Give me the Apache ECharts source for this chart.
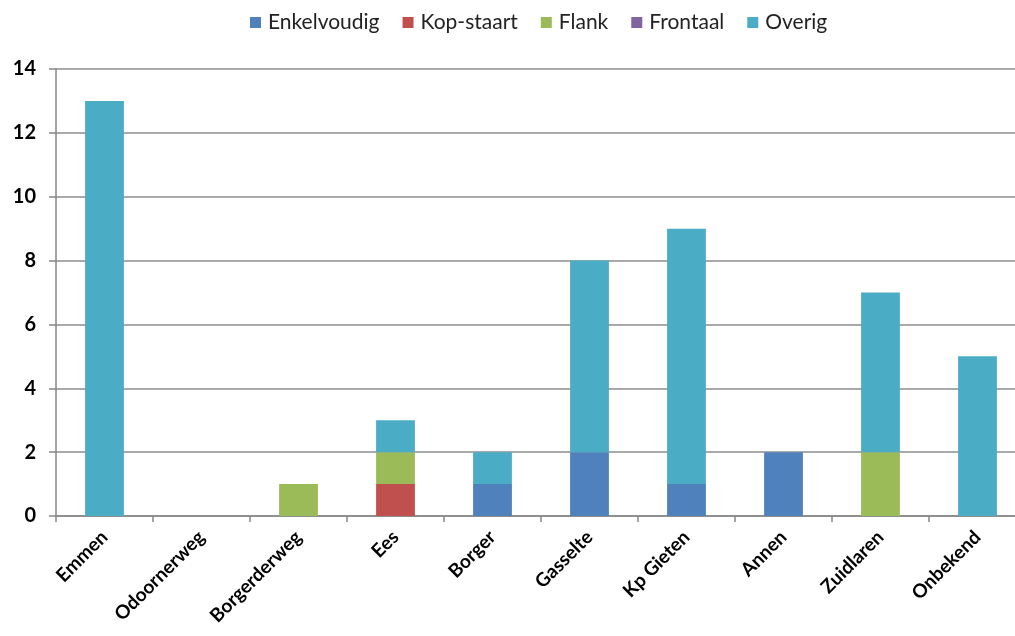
<!DOCTYPE html>
<html>
<head>
<meta charset="utf-8">
<script src="https://cdn.jsdelivr.net/npm/echarts@6/dist/echarts.min.js"></script>
<style>
  html, body { margin: 0; padding: 0; background: #fff; }
  #chart { width: 1015px; height: 636px; }
</style>
</head>
<body>
<div id="chart"></div>
<script>
// Locations along the x axis
const categories = ['Emmen', 'Odoornerweg', 'Borgerderweg', 'Ees', 'Borger', 'Gasselte', 'Kp Gieten', 'Annen', 'Zuidlaren', 'Onbekend'];

// Counts per collision type, stacked per location
const enkelvoudig = [0, 0, 0, 0, 1, 2, 1, 2, 0, 0];
const kopStaart   = [0, 0, 0, 1, 0, 0, 0, 0, 0, 0];
const flank       = [0, 0, 1, 1, 0, 0, 0, 0, 2, 0];
const frontaal    = [0, 0, 0, 0, 0, 0, 0, 0, 0, 0];
const overig      = [13, 0, 0, 1, 1, 6, 8, 0, 5, 5];

const seriesNames = ['Enkelvoudig', 'Kop-staart', 'Flank', 'Frontaal', 'Overig'];
const seriesData = [enkelvoudig, kopStaart, flank, frontaal, overig];
const colors = ['#4F81BD', '#C0504D', '#9BBB59', '#8064A2', '#4BACC6'];

const FONT = 'Lato, "Open Sans", sans-serif';

const chart = echarts.init(document.getElementById('chart'), null, { renderer: 'canvas' });

chart.setOption({
  animation: false,
  color: colors,
  legend: {
    top: 7,
    left: 245,
    itemWidth: 11,
    itemHeight: 11,
    itemGap: 23,
    icon: 'rect',
    textStyle: { fontFamily: FONT, fontSize: 21, color: '#222', padding: [0, 0, 0, 2] },
    data: seriesNames
  },
  // the plot runs slightly past the right edge of the canvas
  grid: { left: 56, width: 970, top: 69, bottom: 120, containLabel: false, outerBoundsMode: 'none' },
  xAxis: {
    type: 'category',
    data: categories,
    axisLine: { lineStyle: { color: '#868686', width: 1.5 } },
    axisTick: { show: true, length: 6, lineStyle: { color: '#868686', width: 1.5 } },
    axisLabel: {
      rotate: 45,
      interval: 0,
      margin: 18,
      fontFamily: FONT,
      fontWeight: 'bold',
      fontSize: 19,
      color: '#000'
    }
  },
  yAxis: {
    type: 'value',
    min: 0,
    max: 14,
    interval: 2,
    axisLine: { show: true, lineStyle: { color: '#868686', width: 1.5 } },
    axisTick: { show: true, length: 7, lineStyle: { color: '#868686', width: 1.5 } },
    splitLine: { lineStyle: { color: '#8c8c8c', width: 1.5 } },
    axisLabel: {
      margin: 20,
      fontFamily: FONT,
      fontWeight: 'bold',
      fontSize: 20,
      color: '#000'
    }
  },
  series: seriesNames.map((name, i) => ({
    name: name,
    type: 'bar',
    stack: 'total',
    barWidth: '40%',
    data: seriesData[i],
    itemStyle: { color: colors[i] }
  }))
});
</script>
</body>
</html>
